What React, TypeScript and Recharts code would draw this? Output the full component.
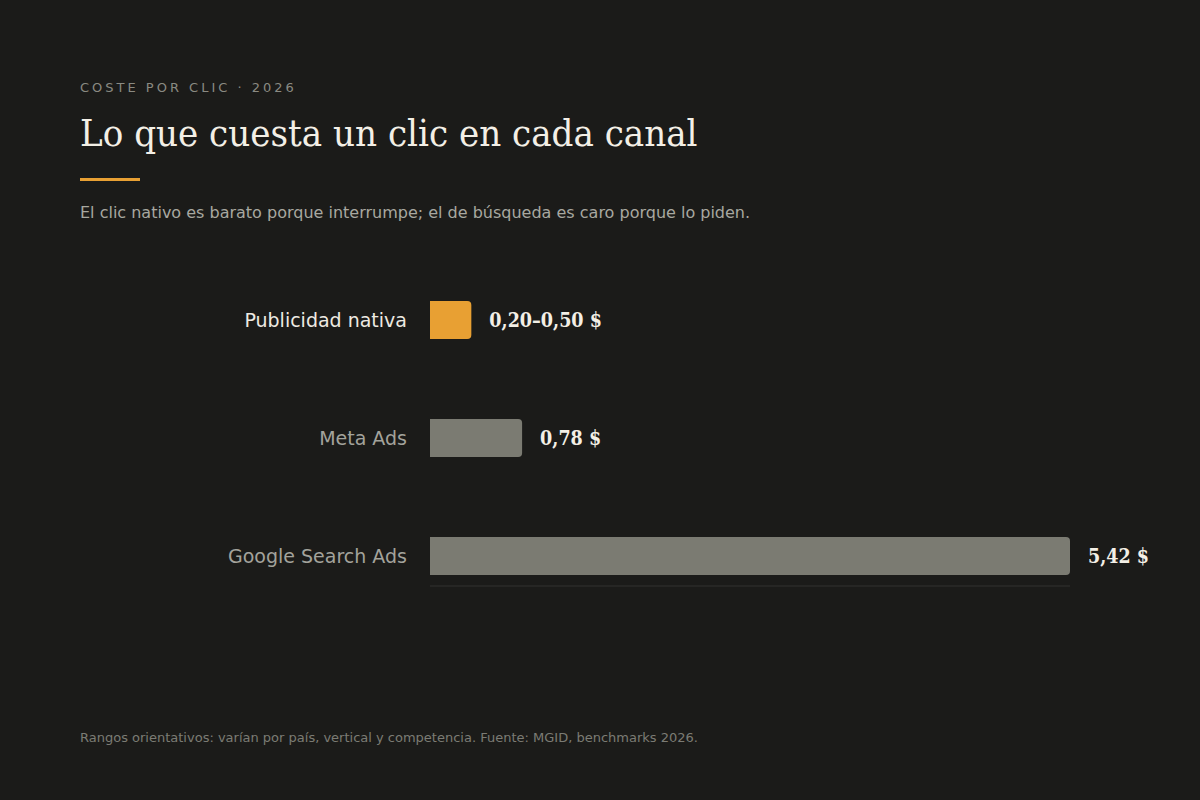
import { BarChart, Bar, XAxis, YAxis, Cell, LabelList, ReferenceLine } from 'recharts';

const CHANNELS = ['Publicidad nativa', 'Meta Ads', 'Google Search Ads'];
// Native CPC is a range (0,20–0,50 $); the bar is drawn at its midpoint
const CPC = [0.35, 0.78, 5.42];
const VALUE_LABELS = ['0,20–0,50 $', '0,78 $', '5,42 $'];
const BAR_COLORS = ['#e8a033', '#7b7b72', '#7b7b72'];
const TICK_COLORS = ['#eeeae2', '#a3a39c', '#a3a39c'];

const SANS = "'DejaVu Sans', sans-serif";
const SERIF = "'DejaVu Serif', serif";

const chartData = CHANNELS.map((name, i) => ({
  name,
  value: CPC[i],
  label: VALUE_LABELS[i],
}));

function ChannelTick({ x, y, payload, index }: any) {
  return (
    <text
      x={x}
      y={y}
      textAnchor="end"
      dominantBaseline="central"
      fill={TICK_COLORS[index] ?? '#a3a39c'}
      fontFamily={SANS}
      fontSize={19}
    >
      {payload.value}
    </text>
  );
}

function ValueLabel({ x, y, width, height, index }: any) {
  return (
    <text
      x={x + width + 18}
      y={y + height / 2}
      dominantBaseline="central"
      fill="#f3efe6"
      fontFamily={SERIF}
      fontWeight={700}
      fontSize={19.5}
      style={{ fontStretch: 'condensed' }}
    >
      {VALUE_LABELS[index]}
    </text>
  );
}

export default function App() {
  return (
    <div
      style={{
        position: 'fixed',
        top: 0,
        left: 0,
        width: 1200,
        height: 800,
        background: '#1b1b19',
        overflow: 'hidden',
      }}
    >
      <div
        style={{
          position: 'absolute',
          left: 80,
          top: 81,
          fontFamily: SANS,
          fontSize: 13,
          lineHeight: 1,
          letterSpacing: 3,
          color: '#8a8a82',
          whiteSpace: 'nowrap',
        }}
      >
        COSTE POR CLIC · 2026
      </div>
      <div
        style={{
          position: 'absolute',
          left: 80,
          top: 114,
          fontFamily: SERIF,
          fontStretch: 'condensed',
          fontSize: 38,
          lineHeight: 1,
          color: '#f3efe6',
          whiteSpace: 'nowrap',
        }}
      >
        Lo que cuesta un clic en cada canal
      </div>
      <div
        style={{
          position: 'absolute',
          left: 80,
          top: 178,
          width: 60,
          height: 3,
          background: '#e8a033',
        }}
      />
      <div
        style={{
          position: 'absolute',
          left: 80,
          top: 205,
          fontFamily: SANS,
          fontSize: 16,
          lineHeight: 1,
          color: '#a8a8a0',
          whiteSpace: 'nowrap',
        }}
      >
        El clic nativo es barato porque interrumpe; el de búsqueda es caro porque lo piden.
      </div>

      <div style={{ position: 'absolute', left: 0, top: 0 }}>
        <BarChart
          width={1200}
          height={800}
          layout="vertical"
          data={chartData}
          margin={{ top: 261, right: 130, bottom: 185, left: 230 }}
        >
          <XAxis type="number" domain={[0, 5.42]} hide />
          <YAxis
            type="category"
            dataKey="name"
            width={200}
            axisLine={false}
            tickLine={false}
            tickSize={0}
            tickMargin={23}
            tick={<ChannelTick />}
          />
          <ReferenceLine
            y="Google Search Ads"
            stroke="#333330"
            shape={(p: any) => (
              <line x1={p.x1} x2={p.x2} y1={p.y1 + 30} y2={p.y2 + 30} stroke="#333330" strokeWidth={1} />
            )}
          />
          <Bar dataKey="value" barSize={38} radius={[0, 4, 4, 0]} isAnimationActive={false}>
            {chartData.map((d, i) => (
              <Cell key={d.name} fill={BAR_COLORS[i]} />
            ))}
            <LabelList dataKey="label" content={<ValueLabel />} />
          </Bar>
        </BarChart>
      </div>

      <div
        style={{
          position: 'absolute',
          left: 80,
          top: 731,
          fontFamily: SANS,
          fontSize: 13,
          lineHeight: 1,
          color: '#7b7b74',
          whiteSpace: 'nowrap',
        }}
      >
        Rangos orientativos: varían por país, vertical y competencia. Fuente: MGID, benchmarks 2026.
      </div>
    </div>
  );
}
